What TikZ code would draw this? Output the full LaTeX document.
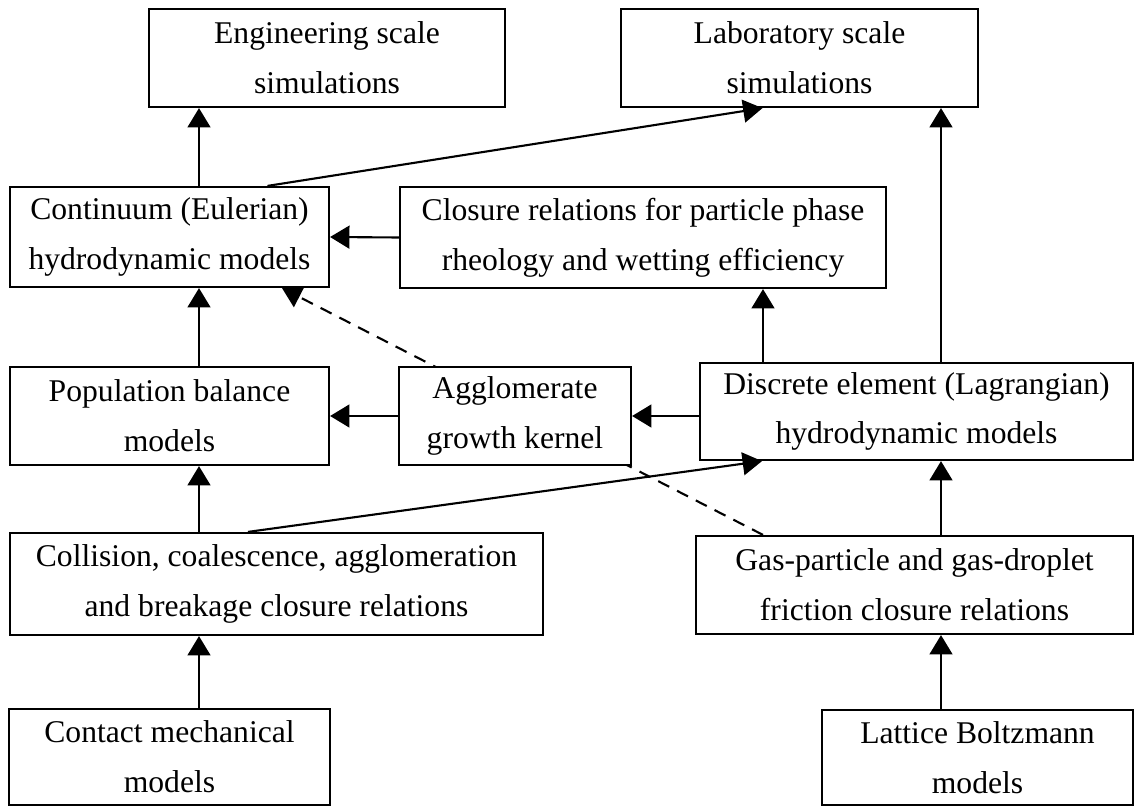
\documentclass[tikz,border=0pt]{standalone}
\usepackage{fontspec}
\setmainfont{Liberation Serif}
\usetikzlibrary{calc}
\usetikzlibrary{arrows.meta, backgrounds}

\begin{document}
\begin{tikzpicture}[x=0.02cm, y=-0.02cm]
    \tikzset{box/.style={draw, line width=1.25pt, fill=white, align=center, inner sep=0pt,
                         font=\fontsize{18}{28.3}\selectfont},
             boxsize/.style 2 args={minimum width=#1*0.02cm, minimum height=#2*0.02cm},
             link/.style={line width=1.2pt, -{Triangle[length=11pt, width=13pt]}},
             hint/.style={link, dash pattern=on 7pt off 5pt}}
    \useasboundingbox (0, 0) rectangle (1135, 807);
    \node[box, boxsize={356}{98}] (eng) at (327, 58) {Engineering scale\\simulations};
    \node[box, boxsize={357}{98}] (lab) at (799.5, 58) {Laboratory scale\\simulations};
    \node[box, boxsize={319}{100}] (cont) at (169.5, 237) {Continuum (Eulerian)\\hydrodynamic models};
    \node[box, boxsize={486}{101}] (clos) at (643, 237.5) {Closure relations for particle phase\\rheology and wetting efficiency};
    \node[box, boxsize={319}{98}] (pop) at (169.5, 416) {Population balance\\models};
    \node[box, boxsize={232}{98}] (agg) at (515, 416) {Agglomerate\\growth kernel};
    \node[box, boxsize={433}{97}] (dem) at (916.5, 411.5) {Discrete element (Lagrangian)\\hydrodynamic models};
    \node[box, boxsize={533}{102}] (coll) at (276.5, 584) {Collision, coalescence, agglomeration\\and breakage closure relations};
    \node[box, boxsize={437}{98}] (gas) at (914.5, 585) {Gas-particle and gas-droplet\\friction closure relations};
    \node[box, boxsize={321}{96}] (contact) at (169.5, 757) {Contact mechanical\\models};
    \node[box, boxsize={311}{95}] (lbm) at (977.5, 757.5) {Lattice Boltzmann\\models};
    % columns of the vertical links
    \coordinate (colL) at (199, 0);
    \coordinate (colM) at (763, 0);
    \coordinate (colR) at (941, 0);
    \draw[link] (cont.north -| colL) -- (eng.south -| colL);
    \draw[link] ($(cont.north)+(98, 0)$) -- ($(lab.south)+(-37, 0)$);
    \draw[link] (clos.west) -- (cont.east);
    \draw[link] (pop.north -| colL) -- (cont.south -| colL);
    \draw[link] (agg.west) -- (pop.east);
    \draw[link] (dem.west |- agg.east) -- (agg.east);
    \draw[link] (dem.north -| colM) -- (clos.south -| colM);
    \draw[link] (dem.north -| colR) -- (lab.south -| colR);
    \draw[link] (coll.north -| colL) -- (pop.south -| colL);
    \draw[link] ($(coll.north)+(-28.5, 0)$) -- ($(dem.south)+(-154.5, 0)$);
    \draw[link] (gas.north -| colR) -- (dem.south -| colR);
    \draw[link] (contact.north -| colL) -- (coll.south -| colL);
    \draw[link] (lbm.north -| colR) -- (gas.south -| colR);
    \begin{scope}[on background layer]
        \draw[hint] (gas.north -| colM) -- ($(cont.south)+(112.5, 0)$);
    \end{scope}
\end{tikzpicture}
\end{document}
